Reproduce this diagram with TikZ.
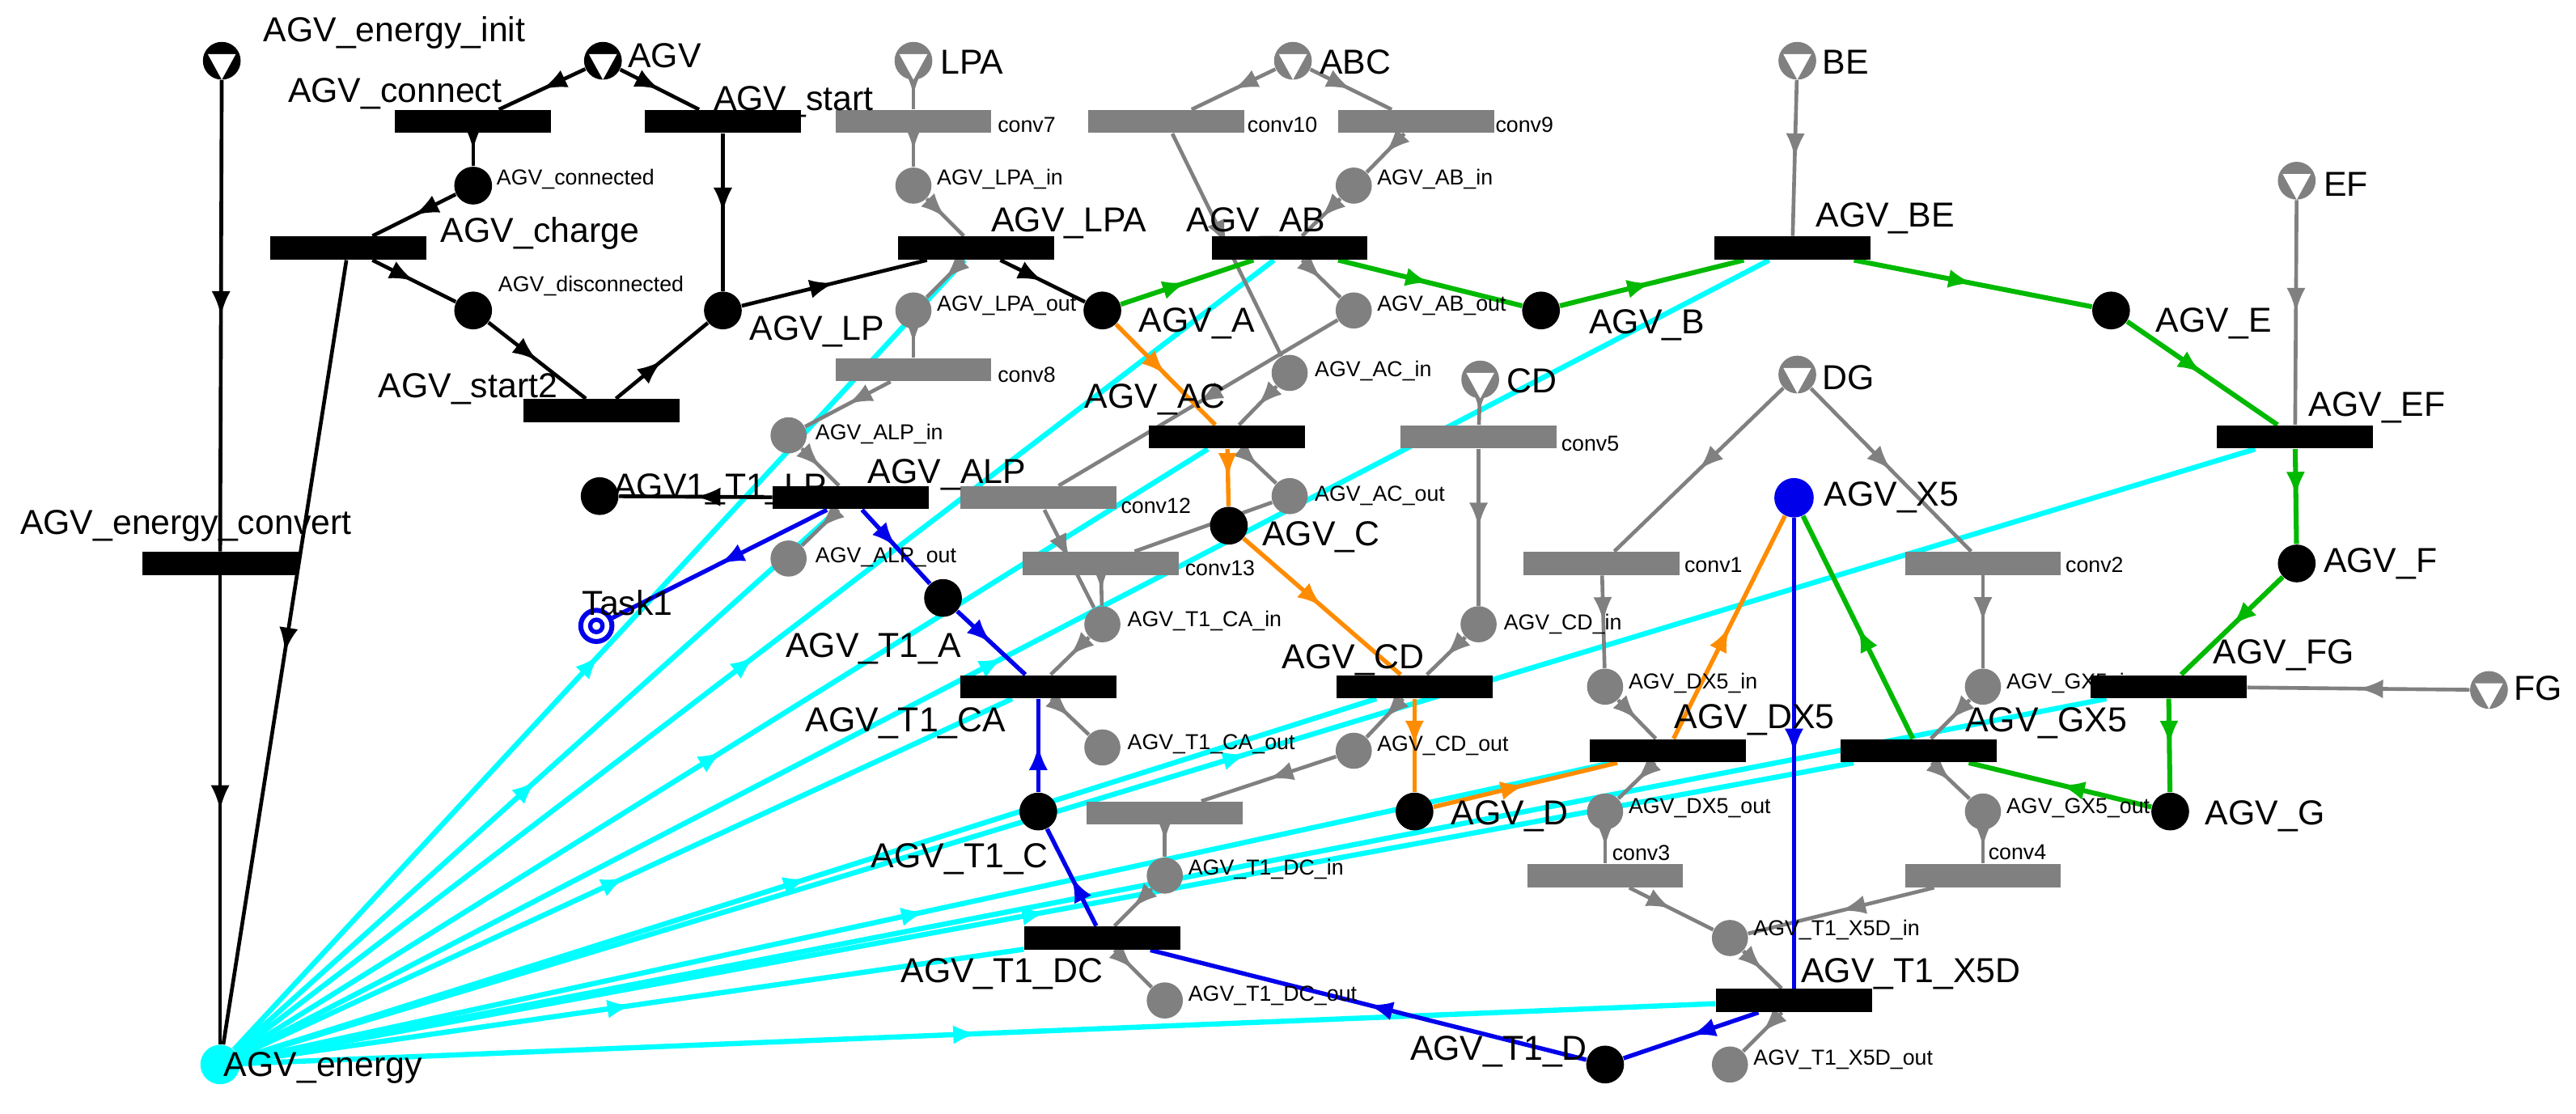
\documentclass[tikz,border=0pt]{standalone}
\usepackage{fontspec}
\setmainfont{Liberation Sans}
\usetikzlibrary{arrows.meta,decorations.markings}
\pgfdeclarelayer{bg}\pgfsetlayers{bg,main}
\definecolor{cgreen}{RGB}{0,185,0}
\definecolor{corange}{RGB}{255,140,0}
\definecolor{cblue}{RGB}{0,0,235}
\definecolor{ccyan}{RGB}{0,255,255}
\definecolor{cgray}{RGB}{128,128,128}
\begin{document}
\begin{tikzpicture}[x=0.02cm,y=-0.02cm,
 tr/.style={rectangle,fill=black,minimum width=1.9cm,minimum height=0.28cm,inner sep=0},
 tg/.style={tr,fill=cgray},
 pb/.style={circle,fill=black,minimum size=0.46cm,inner sep=0},
 pg/.style={circle,fill=cgray,minimum size=0.44cm,inner sep=0},
 src/.style={circle,fill=#1,minimum size=0.46cm,inner sep=0,path picture={
   \fill[white] ([shift={(-0.17cm,0.08cm)}]path picture bounding box.center) -- ([shift={(0.17cm,0.08cm)}]path picture bounding box.center) -- ([shift={(0cm,-0.23cm)}]path picture bounding box.center) -- cycle;}},
 lab/.style={anchor=west,font=\fontsize{12}{12}\selectfont,inner sep=0},
 sl/.style={anchor=west,font=\fontsize{7.5}{8}\selectfont,inner sep=0},
 a/.style={line width=1.3pt,draw=#1,postaction={decorate},decoration={markings,mark=at position 0.5 with {\arrow[#1]{Latex[length=3mm,width=2.3mm]}}}},
 ab/.style={a=black},
 ag/.style={a=cgray},
 agr/.style={a=cgreen,line width=1.7pt},
 ao/.style={a=corange,line width=1.5pt},
 abl/.style={a=cblue,line width=1.5pt},
 ac/.style={a=ccyan,line width=1.8pt}]
\useasboundingbox (0,0) rectangle (1568,678);
% sources
\node[src=black] (init) at (135,37) {};
\node[src=black] (AGV) at (367,37) {};
\node[src=cgray] (LPA) at (556,37) {};
\node[src=cgray] (ABC) at (787,37) {};
\node[src=cgray] (BE) at (1094,37) {};
\node[src=cgray] (EF) at (1398,110) {};
\node[src=cgray] (CD) at (901,231) {};
\node[src=cgray] (DG) at (1094,228) {};
\node[src=cgray] (FG) at (1515,420) {};
% transitions
\node[tr] (connect) at (288,74) {};
\node[tr] (start) at (440,74) {};
\node[tg] (conv7) at (556,74) {};
\node[tg] (conv10) at (710,74) {};
\node[tg] (conv9) at (862,74) {};
\node[tr] (charge) at (212,151) {};
\node[tr] (tLPA) at (594,151) {};
\node[tr] (tAB) at (785,151) {};
\node[tr] (tBE) at (1091,151) {};
\node[tr] (start2) at (366,250) {};
\node[tg] (conv8) at (556,225) {};
\node[tr] (tAC) at (747,266) {};
\node[tg] (conv5) at (900,266) {};
\node[tr] (tEF) at (1397,266) {};
\node[tr] (tALP) at (518,303) {};
\node[tg] (conv12) at (632,303) {};
\node[tg] (conv13) at (670,343) {};
\node[tr] (convert) at (134,343) {};
\node[tg] (conv1) at (975,343) {};
\node[tg] (conv2) at (1207,343) {};
\node[tr] (tTCA) at (632,418) {};
\node[tr] (tCD) at (861,418) {};
\node[tr] (tFG) at (1320,418) {};
\node[tr] (tDX) at (1015,457) {};
\node[tr] (tGX) at (1168,457) {};
\node[tg] (conv11) at (709,495) {};
\node[tg] (conv3) at (977,533) {};
\node[tg] (conv4) at (1207,533) {};
\node[tr] (tTDC) at (671,571) {};
\node[tr] (tTX) at (1092,609) {};
% places
\node[pb] (connected) at (288,113) {};
\node[pb] (disc) at (288,189) {};
\node[pb] (LP) at (440,189) {};
\node[pg] (LPAin) at (556,113) {};
\node[pg] (LPAout) at (556,189) {};
\node[pb] (A) at (671,189) {};
\node[pg] (ABin) at (824,113) {};
\node[pg] (ABout) at (824,189) {};
\node[pb] (B) at (938,189) {};
\node[pb] (E) at (1285,189) {};
\node[pg] (ACin) at (785,227) {};
\node[pg] (ALPin) at (480,265) {};
\node[pb] (T1LP) at (365,302) {};
\node[pg] (ACout) at (785,302) {};
\node[pb] (C) at (748,320) {};
\node[pg] (ALPout) at (480,340) {};
\node[circle,fill=cblue,minimum size=0.48cm,inner sep=0] (X5) at (1092,303) {};
\node[pb] (F) at (1398,343) {};
\node[circle,draw=cblue,line width=1.7pt,minimum size=0.38cm,inner sep=0] (Task1) at (363,381) {};
\node[circle,draw=cblue,line width=1.5pt,minimum size=0.15cm,inner sep=0] at (363,381) {};
\node[pb] (T1A) at (574,364) {};
\node[pg] (TCAin) at (671,380) {};
\node[pg] (CDin) at (900,380) {};
\node[pg] (DXin) at (977,418) {};
\node[pg] (GXin) at (1207,418) {};
\node[pg] (TCAout) at (671,455) {};
\node[pg] (CDout) at (824,457) {};
\node[pb] (T1C) at (632,494) {};
\node[pb] (D) at (861,494) {};
\node[pg] (DXout) at (977,494) {};
\node[pg] (GXout) at (1207,494) {};
\node[pb] (G) at (1321,494) {};
\node[pg] (TDCin) at (709,533) {};
\node[pg] (TXin) at (1053,571) {};
\node[pg] (TDCout) at (709,609) {};
\node[pb] (T1D) at (977,648) {};
\node[pg] (TXout) at (1053,648) {};
\node[circle,fill=ccyan,minimum size=0.48cm,inner sep=0] (energy) at (134,648) {};
% labels
\node[lab] (l1) at (160,20) {AGV\_energy\_init};
\node[lab] (l2) at (382,34) {AGV};
\node[lab] (l3) at (572,38) {LPA};
\node[lab] (l4) at (803,38) {ABC};
\node[lab] (l5) at (1109,38) {BE};
\node[lab] (l6) at (1414,112) {EF};
\node[lab] (l7) at (917,232) {CD};
\node[lab] (l8) at (1109,230) {DG};
\node[lab] (l9) at (1530,419) {FG};
\node[lab] (l10) at (175,57) {AGV\_connect};
\node[lab] (l11) at (434,62) {AGV\_start};
\node[lab] (l12) at (268,142) {AGV\_charge};
\node[lab] (l13) at (603,136) {AGV\_LPA};
\node[lab] (l14) at (722,136) {AGV\_AB};
\node[lab] (l15) at (1105,133) {AGV\_BE};
\node[lab] (l16) at (456,202) {AGV\_LP};
\node[lab] (l17) at (693,197) {AGV\_A};
\node[lab] (l18) at (967,198) {AGV\_B};
\node[lab] (l19) at (1312,197) {AGV\_E};
\node[lab] (l20) at (230,237) {AGV\_start2};
\node[lab] (l21) at (660,243) {AGV\_AC};
\node[lab] (l22) at (1405,248) {AGV\_EF};
\node[lab] (l23) at (528,289) {AGV\_ALP};
\node[lab] (l24) at (373,298) {AGV1\_T1\_LP};
\node[lab] (l25) at (1110,303) {AGV\_X5};
\node[lab] (l26) at (768,327) {AGV\_C};
\node[lab] (l27) at (12,320) {AGV\_energy\_convert};
\node[lab] (l28) at (1414,343) {AGV\_F};
\node[lab] (l29) at (354,367) {Task1};
\node[lab] (l30) at (478,395) {AGV\_T1\_A};
\node[lab] (l31) at (780,402) {AGV\_CD};
\node[lab] (l32) at (1347,399) {AGV\_FG};
\node[lab] (l33) at (1019,438) {AGV\_DX5};
\node[lab] (l34) at (1196,440) {AGV\_GX5};
\node[lab] (l35) at (490,440) {AGV\_T1\_CA};
\node[lab] (l36) at (883,497) {AGV\_D};
\node[lab] (l37) at (1342,497) {AGV\_G};
\node[lab] (l38) at (530,523) {AGV\_T1\_C};
\node[lab] (l39) at (548,593) {AGV\_T1\_DC};
\node[lab] (l40) at (1096,593) {AGV\_T1\_X5D};
\node[lab] (l41) at (858,640) {AGV\_T1\_D};
\node[lab] (l42) at (136,650) {AGV\_energy};
\node[sl] at (302,109) {AGV\_connected};
\node[sl] at (303,174) {AGV\_disconnected};
\node[sl] at (570,109) {AGV\_LPA\_in};
\node[sl] at (570,186) {AGV\_LPA\_out};
\node[sl] at (607,76) {conv7};
\node[sl] at (759,76) {conv10};
\node[sl] at (910,76) {conv9};
\node[sl] at (838,109) {AGV\_AB\_in};
\node[sl] at (838,186) {AGV\_AB\_out};
\node[sl] at (607,228) {conv8};
\node[sl] at (800,226) {AGV\_AC\_in};
\node[sl] at (950,270) {conv5};
\node[sl] at (496,264) {AGV\_ALP\_in};
\node[sl] at (800,302) {AGV\_AC\_out};
\node[sl] at (682,308) {conv12};
\node[sl] at (496,339) {AGV\_ALP\_out};
\node[sl] at (721,346) {conv13};
\node[sl] at (686,378) {AGV\_T1\_CA\_in};
\node[sl] at (915,380) {AGV\_CD\_in};
\node[sl] at (1025,344) {conv1};
\node[sl] at (1257,344) {conv2};
\node[sl] at (991,416) {AGV\_DX5\_in};
\node[sl] at (1221,416) {AGV\_GX5\_in};
\node[sl] at (686,453) {AGV\_T1\_CA\_out};
\node[sl] at (838,454) {AGV\_CD\_out};
\node[sl] at (991,492) {AGV\_DX5\_out};
\node[sl] at (1221,492) {AGV\_GX5\_out};
\node[sl] at (981,519) {conv3};
\node[sl] at (1210,519) {conv4};
\node[sl] at (723,529) {AGV\_T1\_DC\_in};
\node[sl] at (1067,566) {AGV\_T1\_X5D\_in};
\node[sl] at (723,606) {AGV\_T1\_DC\_out};
\node[sl] at (1067,645) {AGV\_T1\_X5D\_out};
\begin{pgfonlayer}{bg}
% cyan
\foreach \t in {tLPA,tAB,tBE,tALP,tAC,tTCA,tEF,tCD,tFG,tDX,tGX,tTDC,tTX}
  \draw[ac] (energy) -- (\t);
% black
\draw[ab] (init) -- (convert);
\draw[ab] (convert) -- (energy);
\draw[ab] (charge) -- (energy);
\draw[ab] (AGV) -- (connect);
\draw[ab] (AGV) -- (start);
\draw[ab] (connect) -- (connected);
\draw[ab] (connected) -- (charge);
\draw[ab] (charge) -- (disc);
\draw[ab] (disc) -- (start2);
\draw[ab] (start2) -- (LP);
\draw[ab] (start) -- (LP);
\draw[ab] (LP) -- (tLPA);
\draw[ab] (tLPA) -- (A);
\draw[ab] (tALP) -- (T1LP);
% gray
\draw[ag] (LPA) -- (conv7);
\draw[ag] (conv7) -- (LPAin);
\draw[ag] (LPAin) -- (tLPA);
\draw[ag] (tLPA) -- (LPAout);
\draw[ag] (LPAout) -- (conv8);
\draw[ag] (conv8) -- (ALPin);
\draw[ag] (ALPin) -- (tALP);
\draw[ag] (tALP) -- (ALPout);
\draw[ag] (ABC) -- (conv10);
\draw[ag] (ABC) -- (conv9);
\draw[ag] (conv9) -- (ABin);
\draw[ag] (ABin) -- (tAB);
\draw[ag] (tAB) -- (ABout);
\draw[ag] (ABout) -- (conv12);
\draw[ag] (conv10) -- (ACin);
\draw[ag] (ACin) -- (tAC);
\draw[ag] (tAC) -- (ACout);
\draw[ag] (ACout) -- (conv13);
\draw[ag] (conv12) -- (TCAin);
\draw[ag] (conv13) -- (TCAin);
\draw[ag] (TCAin) -- (tTCA);
\draw[ag] (tTCA) -- (TCAout);
\draw[ag] (CD) -- (conv5);
\draw[ag] (conv5) -- (CDin);
\draw[ag] (CDin) -- (tCD);
\draw[ag] (tCD) -- (CDout);
\draw[ag] (CDout) -- (conv11);
\draw[ag] (conv11) -- (TDCin);
\draw[ag] (TDCin) -- (tTDC);
\draw[ag] (tTDC) -- (TDCout);
\draw[ag] (DG) -- (conv1);
\draw[ag] (DG) -- (conv2);
\draw[ag] (conv1) -- (DXin);
\draw[ag] (DXin) -- (tDX);
\draw[ag] (tDX) -- (DXout);
\draw[ag] (DXout) -- (conv3);
\draw[ag] (conv3) -- (TXin);
\draw[ag] (conv2) -- (GXin);
\draw[ag] (GXin) -- (tGX);
\draw[ag] (tGX) -- (GXout);
\draw[ag] (GXout) -- (conv4);
\draw[ag] (conv4) -- (TXin);
\draw[ag] (TXin) -- (tTX);
\draw[ag] (tTX) -- (TXout);
\draw[ag] (BE) -- (tBE);
\draw[ag] (EF) -- (tEF);
\draw[ag] (FG) -- (tFG);
% green
\draw[agr] (A) -- (tAB);
\draw[agr] (tAB) -- (B);
\draw[agr] (B) -- (tBE);
\draw[agr] (tBE) -- (E);
\draw[agr] (E) -- (tEF);
\draw[agr] (tEF) -- (F);
\draw[agr] (F) -- (tFG);
\draw[agr] (tFG) -- (G);
\draw[agr] (G) -- (tGX);
\draw[agr] (tGX) -- (X5);
% orange
\draw[ao] (A) -- (tAC);
\draw[ao] (tAC) -- (C);
\draw[ao] (C) -- (tCD);
\draw[ao] (tCD) -- (D);
\draw[ao] (D) -- (tDX);
\draw[ao] (tDX) -- (X5);
% blue
\draw[abl] (X5) -- (tTX);
\draw[abl] (tTX) -- (T1D);
\draw[abl] (T1D) -- (tTDC);
\draw[abl] (tTDC) -- (T1C);
\draw[abl] (T1C) -- (tTCA);
\draw[abl] (T1A) -- (tTCA);
\draw[abl] (tALP) -- (T1A);
\draw[abl] (tALP) -- (Task1);
\end{pgfonlayer}
\end{tikzpicture}
\end{document}
